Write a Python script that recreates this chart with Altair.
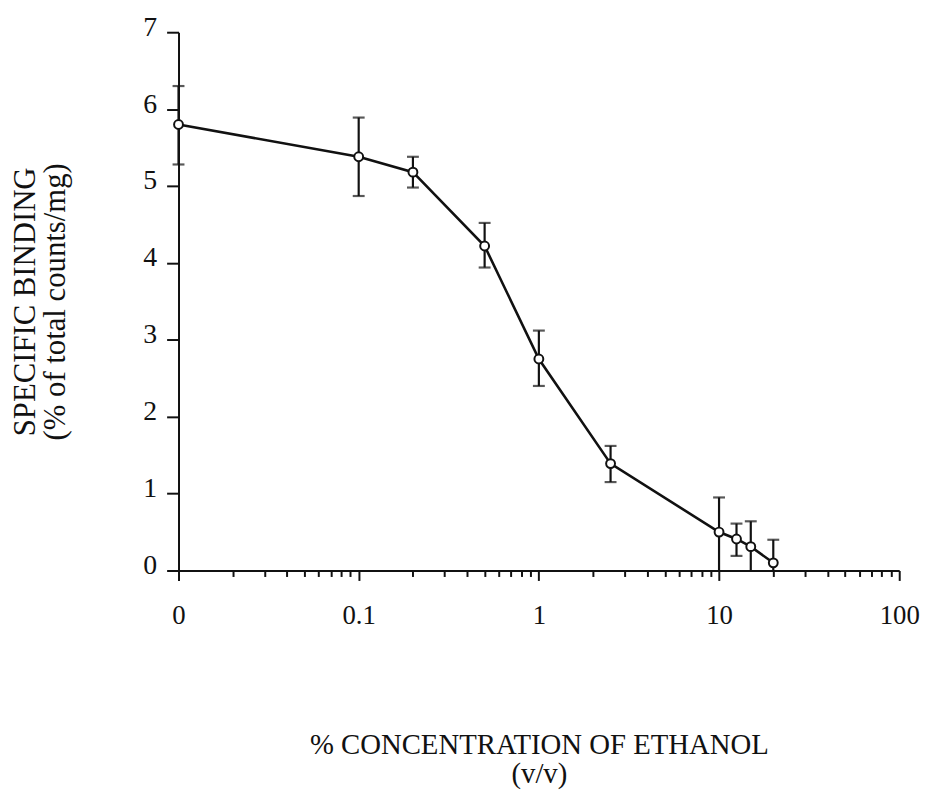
import altair as alt
import pandas as pd

# Data
conc = [0.01, 0.1, 0.2, 0.5, 1.0, 2.5, 10.0, 12.5, 15.0, 20.0]   # % ethanol (v/v); 0 drawn at 0.01
binding = [5.80, 5.38, 5.18, 4.22, 2.75, 1.39, 0.50, 0.41, 0.31, 0.10]
err_hi = [6.30, 5.89, 5.38, 4.52, 3.12, 1.62, 0.95, 0.61, 0.64, 0.40]
err_lo = [5.28, 4.87, 4.98, 3.94, 2.40, 1.15, 0.00, 0.19, 0.00, 0.00]

x_major = [0.01, 0.1, 1, 10, 100]
x_major_labels = ["0", "0.1", "1", "10", "100"]
y_ticks = [0, 1, 2, 3, 4, 5, 6, 7]

x_minor = [round(m * 10 ** e, 6) for e in (-2, -1, 0, 1) for m in range(2, 10)]
x_all_ticks = sorted(x_major + x_minor)

df = pd.DataFrame({"conc": conc, "binding": binding, "hi": err_hi, "lo": err_lo})

label_expr = "''"
for v, lab in reversed(list(zip(x_major, x_major_labels))):
    label_expr = f"datum.value == {v} ? '{lab}' : ({label_expr})"
major_test = "indexof([" + ",".join(str(v) for v in x_major) + "], datum.value) >= 0"

FONT = "Liberation Serif"
INK = "#111111"

x_enc = alt.X(
    "conc:Q",
    scale=alt.Scale(type="log", domain=[0.01, 100], nice=False),
    axis=alt.Axis(
        values=x_all_ticks,
        labelExpr=label_expr,
        tickSize={"condition": {"test": major_test, "value": 10}, "value": 6},
        tickWidth=2,
        tickColor=INK,
        domainColor=INK,
        domainWidth=2,
        labelFont=FONT,
        labelFontSize=27,
        labelColor=INK,
        labelPadding=22,
        labelFlush=False,
        labelOverlap=False,
        grid=False,
        title=["% CONCENTRATION OF ETHANOL", "(v/v)"],
        titleFont=FONT,
        titleFontSize=29,
        titleFontWeight="normal",
        titleColor=INK,
        titleLineHeight=29,
        titlePadding=104,
    ),
)

y_axis = alt.Axis(
    values=y_ticks,
    format="d",
    tickSize=12,
    tickWidth=2,
    tickColor=INK,
    domainColor=INK,
    domainWidth=2,
    labelFont=FONT,
    labelFontSize=28,
    labelColor=INK,
    labelPadding=10,
    labelOffset=-5,
    labelFlush=False,
    grid=False,
    title=["SPECIFIC BINDING", "(% of total counts/mg)"],
    titleFont=FONT,
    titleFontSize=31,
    titleFontWeight="normal",
    titleColor=INK,
    titleLineHeight=30,
    titlePadding=72,
)
y_scale = alt.Scale(domain=[0, 7], nice=False)

base = alt.Chart(df)

bars = base.mark_rule(color=INK, strokeWidth=2.2).encode(
    x=x_enc,
    y=alt.Y("lo:Q", scale=y_scale, axis=y_axis),
    y2="hi:Q",
)
caps_hi = base.mark_tick(color=INK, size=12, thickness=2.2, orient="horizontal").encode(
    x="conc:Q", y="hi:Q"
)
caps_lo = base.transform_filter("datum.lo > 0").mark_tick(
    color=INK, size=12, thickness=2.2, orient="horizontal"
).encode(x="conc:Q", y="lo:Q")
line = base.mark_line(color=INK, strokeWidth=2.6).encode(
    x="conc:Q", y="binding:Q", order="conc:Q"
)
pts = base.mark_point(
    shape="circle", filled=True, fill="white", stroke=INK, strokeWidth=2, size=80, opacity=1
).encode(x="conc:Q", y="binding:Q")

chart = (
    alt.layer(bars, caps_hi, caps_lo, line, pts)
    .properties(
        width=727,
        height=543,
        padding={"left": 2, "top": 2, "right": 5, "bottom": 0},
        background="white",
    )
    .configure_view(stroke=None)
)

chart.save("out.html", embed_options={"renderer": "svg", "actions": False})
